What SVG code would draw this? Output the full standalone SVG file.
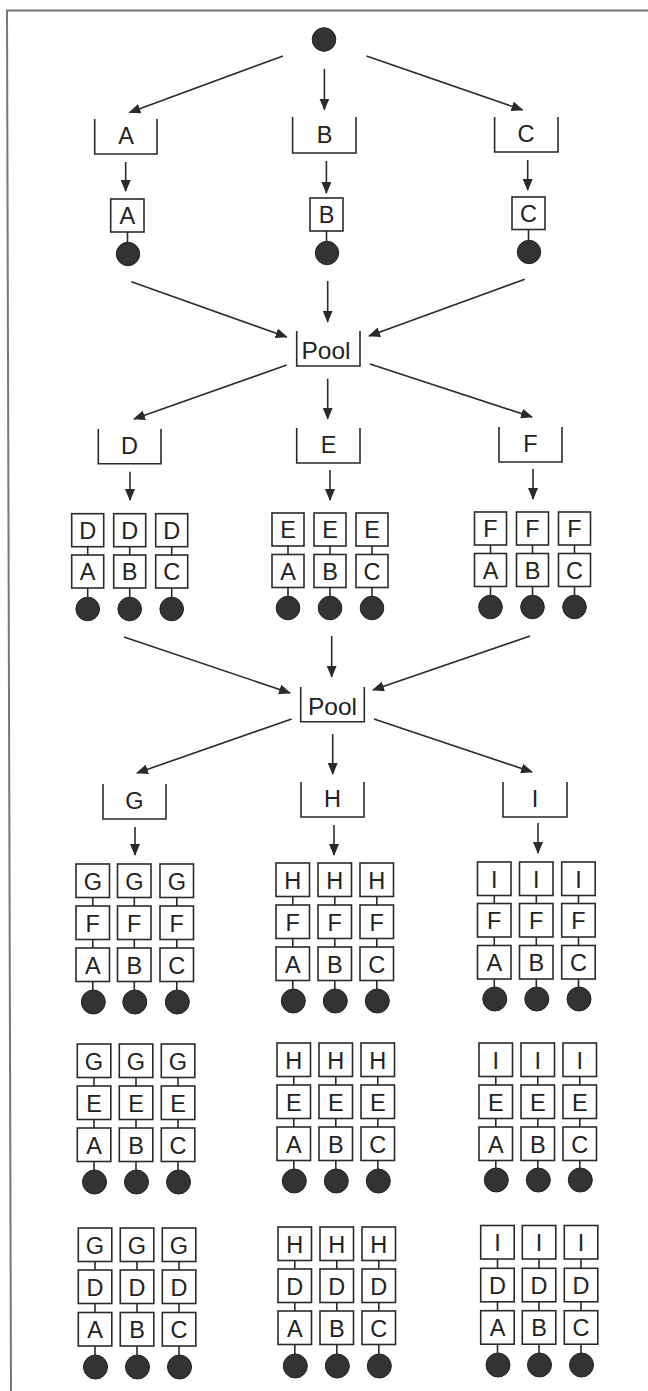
<svg xmlns="http://www.w3.org/2000/svg" width="648" height="1391" viewBox="0 0 648 1391">
<defs>
<marker id="ah" markerUnits="userSpaceOnUse" markerWidth="12" markerHeight="10" refX="11" refY="5" orient="auto"><path d="M0,0 L12,5 L0,10 z" fill="#2a2a2a"/></marker>
<style>
.b{fill:none;stroke:#2a2a2a;stroke-width:1.6}
.k{fill:#fff;stroke:#2a2a2a;stroke-width:1.6}
.l{stroke:#2a2a2a;stroke-width:1.6;fill:none}
.a{stroke:#2a2a2a;stroke-width:1.6;fill:none;marker-end:url(#ah)}
.d{fill:#333;stroke:#222;stroke-width:1}
.t{font-family:"Liberation Sans",Arial,sans-serif;font-size:23.5px;text-anchor:middle;fill:#222}
.p{font-family:"Liberation Sans",Arial,sans-serif;font-size:24.5px;text-anchor:middle;fill:#222}
.fr{stroke:#777;stroke-width:2;fill:none}
</style>
</defs>
<rect x="0" y="0" width="648" height="1391" fill="#fff"/>
<path class="fr" d="M648,10.5 L7,10.5 L11,1391"/>

<g id="start"><circle class="d" cx="324" cy="39.5" r="11.8"/></g>

<g id="connectors">
<line class="a" x1="283" y1="56" x2="129.5" y2="112.5"/>
<line class="a" x1="324.4" y1="69" x2="324.4" y2="109.5"/>
<line class="a" x1="366.5" y1="56" x2="522.5" y2="110"/>
<line class="a" x1="125.7" y1="162" x2="125.7" y2="191"/>
<line class="a" x1="326.4" y1="161" x2="326.4" y2="193"/>
<line class="a" x1="527.7" y1="160" x2="527.7" y2="190"/>
<line class="a" x1="131.4" y1="281.7" x2="286.7" y2="337"/>
<line class="a" x1="327.7" y1="281" x2="327.7" y2="321.7"/>
<line class="a" x1="524.8" y1="279.3" x2="369" y2="336"/>
<line class="a" x1="286.7" y1="365" x2="134" y2="419"/>
<line class="a" x1="327.7" y1="378.7" x2="327.7" y2="418.7"/>
<line class="a" x1="370" y1="364" x2="532" y2="417"/>
<line class="a" x1="130" y1="471.7" x2="130" y2="500"/>
<line class="a" x1="330" y1="470" x2="330" y2="500"/>
<line class="a" x1="533" y1="469" x2="533" y2="499"/>
<line class="a" x1="124" y1="637" x2="290" y2="693"/>
<line class="a" x1="331.7" y1="636" x2="331.7" y2="676.7"/>
<line class="a" x1="530" y1="636" x2="373" y2="690"/>
<line class="a" x1="291.7" y1="719" x2="137" y2="773"/>
<line class="a" x1="332.7" y1="734" x2="332.7" y2="774"/>
<line class="a" x1="374" y1="719" x2="532" y2="772"/>
<line class="a" x1="135" y1="827" x2="135" y2="855"/>
<line class="a" x1="334" y1="825" x2="334" y2="855"/>
<line class="a" x1="538" y1="823" x2="538" y2="853"/>
</g>

<g id="qA"><path class="b" d="M94.7,119 V154 H157 V119"/><text class="t" x="126" y="144">A</text></g>
<g id="qB"><path class="b" d="M292.6,117 V153 H356 V117"/><text class="t" x="324.5" y="143">B</text></g>
<g id="qC"><path class="b" d="M494.6,117 V152 H558 V117"/><text class="t" x="526" y="142">C</text></g>

<g id="sA"><rect class="k" x="110.7" y="199" width="33.3" height="33"/><text class="t" x="127.4" y="224">A</text><line class="l" x1="127.5" y1="232" x2="127.5" y2="243"/><circle class="d" cx="128" cy="254" r="11.7"/></g>
<g id="sB"><rect class="k" x="310" y="198" width="33" height="33"/><text class="t" x="326.5" y="223">B</text><line class="l" x1="326.5" y1="231" x2="326.5" y2="242"/><circle class="d" cx="327" cy="253" r="11.7"/></g>
<g id="sC"><rect class="k" x="512" y="197" width="33" height="32.5"/><text class="t" x="528.5" y="222">C</text><line class="l" x1="528.5" y1="229.5" x2="528.5" y2="241"/><circle class="d" cx="529" cy="252" r="11.7"/></g>

<g id="pool1"><path class="b" d="M296.7,331 V366 H360 V331"/><text class="p" x="326" y="359">Pool</text></g>

<g id="qD"><path class="b" d="M98.3,429 V463.7 H161 V429"/><text class="t" x="129.5" y="454">D</text></g>
<g id="qE"><path class="b" d="M296.7,428 V463 H360 V428"/><text class="t" x="328.5" y="453">E</text></g>
<g id="qF"><path class="b" d="M499,427 V462 H562 V427"/><text class="t" x="530.5" y="452">F</text></g>

<g id="DA"><rect class="k" x="71.7" y="513.7" width="32" height="33"/><text class="t" x="87.7" y="538.5">D</text><line class="l" x1="87.7" y1="546.7" x2="87.7" y2="555"/><rect class="k" x="71.7" y="555" width="32" height="33"/><text class="t" x="87.7" y="580">A</text><line class="l" x1="87.7" y1="588" x2="87.7" y2="597"/><circle class="d" cx="87.7" cy="609" r="11.8"/></g>
<g id="DB"><rect class="k" x="113.7" y="513.7" width="32" height="33"/><text class="t" x="129.7" y="538.5">D</text><line class="l" x1="129.7" y1="546.7" x2="129.7" y2="555"/><rect class="k" x="113.7" y="555" width="32" height="33"/><text class="t" x="129.7" y="580">B</text><line class="l" x1="129.7" y1="588" x2="129.7" y2="597"/><circle class="d" cx="129.7" cy="609" r="11.8"/></g>
<g id="DC"><rect class="k" x="155.7" y="513.7" width="32" height="33"/><text class="t" x="171.7" y="538.5">D</text><line class="l" x1="171.7" y1="546.7" x2="171.7" y2="555"/><rect class="k" x="155.7" y="555" width="32" height="33"/><text class="t" x="171.7" y="580">C</text><line class="l" x1="171.7" y1="588" x2="171.7" y2="597"/><circle class="d" cx="171.7" cy="609" r="11.8"/></g>

<g id="EA"><rect class="k" x="272" y="513" width="32" height="33"/><text class="t" x="288" y="538">E</text><line class="l" x1="288" y1="546" x2="288" y2="554.5"/><rect class="k" x="272" y="554.5" width="32" height="33"/><text class="t" x="288" y="579.5">A</text><line class="l" x1="288" y1="587.5" x2="288" y2="596"/><circle class="d" cx="288" cy="608" r="11.8"/></g>
<g id="EB"><rect class="k" x="314" y="513" width="32" height="33"/><text class="t" x="330" y="538">E</text><line class="l" x1="330" y1="546" x2="330" y2="554.5"/><rect class="k" x="314" y="554.5" width="32" height="33"/><text class="t" x="330" y="579.5">B</text><line class="l" x1="330" y1="587.5" x2="330" y2="596"/><circle class="d" cx="330" cy="608" r="11.8"/></g>
<g id="EC"><rect class="k" x="356" y="513" width="32" height="33"/><text class="t" x="372" y="538">E</text><line class="l" x1="372" y1="546" x2="372" y2="554.5"/><rect class="k" x="356" y="554.5" width="32" height="33"/><text class="t" x="372" y="579.5">C</text><line class="l" x1="372" y1="587.5" x2="372" y2="596"/><circle class="d" cx="372" cy="608" r="11.8"/></g>

<g id="FA"><rect class="k" x="474.5" y="512" width="32" height="33"/><text class="t" x="490.5" y="537">F</text><line class="l" x1="490.5" y1="545" x2="490.5" y2="553.5"/><rect class="k" x="474.5" y="553.5" width="32" height="33"/><text class="t" x="490.5" y="578.5">A</text><line class="l" x1="490.5" y1="586.5" x2="490.5" y2="595"/><circle class="d" cx="490.5" cy="607" r="11.8"/></g>
<g id="FB"><rect class="k" x="516.5" y="512" width="32" height="33"/><text class="t" x="532.5" y="537">F</text><line class="l" x1="532.5" y1="545" x2="532.5" y2="553.5"/><rect class="k" x="516.5" y="553.5" width="32" height="33"/><text class="t" x="532.5" y="578.5">B</text><line class="l" x1="532.5" y1="586.5" x2="532.5" y2="595"/><circle class="d" cx="532.5" cy="607" r="11.8"/></g>
<g id="FC"><rect class="k" x="558.5" y="512" width="32" height="33"/><text class="t" x="574.5" y="537">F</text><line class="l" x1="574.5" y1="545" x2="574.5" y2="553.5"/><rect class="k" x="558.5" y="553.5" width="32" height="33"/><text class="t" x="574.5" y="578.5">C</text><line class="l" x1="574.5" y1="586.5" x2="574.5" y2="595"/><circle class="d" cx="574.5" cy="607" r="11.8"/></g>

<g id="pool2"><path class="b" d="M300.7,687 V721.7 H364.3 V687"/><text class="p" x="332.5" y="715">Pool</text></g>

<g id="qG"><path class="b" d="M103,784 V819 H166 V784"/><text class="t" x="134.5" y="809">G</text></g>
<g id="qH"><path class="b" d="M301,782 V817 H364 V782"/><text class="t" x="332.5" y="807">H</text></g>
<g id="qI"><path class="b" d="M503,782 V817 H567 V782"/><text class="t" x="535" y="807">I</text></g>

<!-- G stacks -->
<g id="GFA"><rect class="k" x="76" y="864" width="33.5" height="33.5"/><text class="t" x="92.8" y="889.5">G</text><line class="l" x1="92.8" y1="897.5" x2="92.8" y2="906"/><rect class="k" x="76" y="906" width="33.5" height="33.5"/><text class="t" x="92.8" y="931.5">F</text><line class="l" x1="92.8" y1="939.5" x2="92.8" y2="948"/><rect class="k" x="76" y="948" width="33.5" height="33.5"/><text class="t" x="92.8" y="973.5">A</text><line class="l" x1="92.8" y1="981.5" x2="92.8" y2="990"/><circle class="d" cx="93.3" cy="1002" r="12"/></g>
<g id="GFB"><rect class="k" x="117.5" y="864" width="33.5" height="33.5"/><text class="t" x="134.3" y="889.5">G</text><line class="l" x1="134.3" y1="897.5" x2="134.3" y2="906"/><rect class="k" x="117.5" y="906" width="33.5" height="33.5"/><text class="t" x="134.3" y="931.5">F</text><line class="l" x1="134.3" y1="939.5" x2="134.3" y2="948"/><rect class="k" x="117.5" y="948" width="33.5" height="33.5"/><text class="t" x="134.3" y="973.5">B</text><line class="l" x1="134.3" y1="981.5" x2="134.3" y2="990"/><circle class="d" cx="134.8" cy="1002" r="12"/></g>
<g id="GFC"><rect class="k" x="160" y="864" width="33.5" height="33.5"/><text class="t" x="176.8" y="889.5">G</text><line class="l" x1="176.8" y1="897.5" x2="176.8" y2="906"/><rect class="k" x="160" y="906" width="33.5" height="33.5"/><text class="t" x="176.8" y="931.5">F</text><line class="l" x1="176.8" y1="939.5" x2="176.8" y2="948"/><rect class="k" x="160" y="948" width="33.5" height="33.5"/><text class="t" x="176.8" y="973.5">C</text><line class="l" x1="176.8" y1="981.5" x2="176.8" y2="990"/><circle class="d" cx="177.3" cy="1002" r="12"/></g>

<g id="GEA"><rect class="k" x="77.3" y="1044" width="33.5" height="33.5"/><text class="t" x="94" y="1069.5">G</text><line class="l" x1="94" y1="1077.5" x2="94" y2="1086"/><rect class="k" x="77.3" y="1086" width="33.5" height="33.5"/><text class="t" x="94" y="1111.5">E</text><line class="l" x1="94" y1="1119.5" x2="94" y2="1128"/><rect class="k" x="77.3" y="1128" width="33.5" height="33.5"/><text class="t" x="94" y="1153.5">A</text><line class="l" x1="94" y1="1161.5" x2="94" y2="1170"/><circle class="d" cx="94.5" cy="1182" r="12"/></g>
<g id="GEB"><rect class="k" x="119.3" y="1044" width="33.5" height="33.5"/><text class="t" x="136" y="1069.5">G</text><line class="l" x1="136" y1="1077.5" x2="136" y2="1086"/><rect class="k" x="119.3" y="1086" width="33.5" height="33.5"/><text class="t" x="136" y="1111.5">E</text><line class="l" x1="136" y1="1119.5" x2="136" y2="1128"/><rect class="k" x="119.3" y="1128" width="33.5" height="33.5"/><text class="t" x="136" y="1153.5">B</text><line class="l" x1="136" y1="1161.5" x2="136" y2="1170"/><circle class="d" cx="136.5" cy="1182" r="12"/></g>
<g id="GEC"><rect class="k" x="161.3" y="1044" width="33.5" height="33.5"/><text class="t" x="178" y="1069.5">G</text><line class="l" x1="178" y1="1077.5" x2="178" y2="1086"/><rect class="k" x="161.3" y="1086" width="33.5" height="33.5"/><text class="t" x="178" y="1111.5">E</text><line class="l" x1="178" y1="1119.5" x2="178" y2="1128"/><rect class="k" x="161.3" y="1128" width="33.5" height="33.5"/><text class="t" x="178" y="1153.5">C</text><line class="l" x1="178" y1="1161.5" x2="178" y2="1170"/><circle class="d" cx="178.5" cy="1182" r="12"/></g>

<g id="GDA"><rect class="k" x="78.3" y="1228" width="33.5" height="33.5"/><text class="t" x="95" y="1253.5">G</text><line class="l" x1="95" y1="1261.5" x2="95" y2="1270"/><rect class="k" x="78.3" y="1270" width="33.5" height="33.5"/><text class="t" x="95" y="1295.5">D</text><line class="l" x1="95" y1="1303.5" x2="95" y2="1312.5"/><rect class="k" x="78.3" y="1312.5" width="33.5" height="33.5"/><text class="t" x="95" y="1338">A</text><line class="l" x1="95" y1="1346" x2="95" y2="1355"/><circle class="d" cx="95.5" cy="1367" r="12"/></g>
<g id="GDB"><rect class="k" x="120.3" y="1228" width="33.5" height="33.5"/><text class="t" x="137" y="1253.5">G</text><line class="l" x1="137" y1="1261.5" x2="137" y2="1270"/><rect class="k" x="120.3" y="1270" width="33.5" height="33.5"/><text class="t" x="137" y="1295.5">D</text><line class="l" x1="137" y1="1303.5" x2="137" y2="1312.5"/><rect class="k" x="120.3" y="1312.5" width="33.5" height="33.5"/><text class="t" x="137" y="1338">B</text><line class="l" x1="137" y1="1346" x2="137" y2="1355"/><circle class="d" cx="137.5" cy="1367" r="12"/></g>
<g id="GDC"><rect class="k" x="162.3" y="1228" width="33.5" height="33.5"/><text class="t" x="179" y="1253.5">G</text><line class="l" x1="179" y1="1261.5" x2="179" y2="1270"/><rect class="k" x="162.3" y="1270" width="33.5" height="33.5"/><text class="t" x="179" y="1295.5">D</text><line class="l" x1="179" y1="1303.5" x2="179" y2="1312.5"/><rect class="k" x="162.3" y="1312.5" width="33.5" height="33.5"/><text class="t" x="179" y="1338">C</text><line class="l" x1="179" y1="1346" x2="179" y2="1355"/><circle class="d" cx="179.5" cy="1367" r="12"/></g>

<!-- H stacks -->
<g id="HFA"><rect class="k" x="276" y="863" width="33.5" height="33.5"/><text class="t" x="292.8" y="888.5">H</text><line class="l" x1="292.8" y1="896.5" x2="292.8" y2="905"/><rect class="k" x="276" y="905" width="33.5" height="33.5"/><text class="t" x="292.8" y="930.5">F</text><line class="l" x1="292.8" y1="938.5" x2="292.8" y2="947"/><rect class="k" x="276" y="947" width="33.5" height="33.5"/><text class="t" x="292.8" y="972.5">A</text><line class="l" x1="292.8" y1="980.5" x2="292.8" y2="989"/><circle class="d" cx="293.3" cy="1001" r="12"/></g>
<g id="HFB"><rect class="k" x="318" y="863" width="33.5" height="33.5"/><text class="t" x="334.8" y="888.5">H</text><line class="l" x1="334.8" y1="896.5" x2="334.8" y2="905"/><rect class="k" x="318" y="905" width="33.5" height="33.5"/><text class="t" x="334.8" y="930.5">F</text><line class="l" x1="334.8" y1="938.5" x2="334.8" y2="947"/><rect class="k" x="318" y="947" width="33.5" height="33.5"/><text class="t" x="334.8" y="972.5">B</text><line class="l" x1="334.8" y1="980.5" x2="334.8" y2="989"/><circle class="d" cx="335.3" cy="1001" r="12"/></g>
<g id="HFC"><rect class="k" x="360" y="863" width="33.5" height="33.5"/><text class="t" x="376.8" y="888.5">H</text><line class="l" x1="376.8" y1="896.5" x2="376.8" y2="905"/><rect class="k" x="360" y="905" width="33.5" height="33.5"/><text class="t" x="376.8" y="930.5">F</text><line class="l" x1="376.8" y1="938.5" x2="376.8" y2="947"/><rect class="k" x="360" y="947" width="33.5" height="33.5"/><text class="t" x="376.8" y="972.5">C</text><line class="l" x1="376.8" y1="980.5" x2="376.8" y2="989"/><circle class="d" cx="377.3" cy="1001" r="12"/></g>

<g id="HEA"><rect class="k" x="277" y="1043" width="33.5" height="33.5"/><text class="t" x="293.8" y="1068.5">H</text><line class="l" x1="293.8" y1="1076.5" x2="293.8" y2="1085"/><rect class="k" x="277" y="1085" width="33.5" height="33.5"/><text class="t" x="293.8" y="1110.5">E</text><line class="l" x1="293.8" y1="1118.5" x2="293.8" y2="1127"/><rect class="k" x="277" y="1127" width="33.5" height="33.5"/><text class="t" x="293.8" y="1152.5">A</text><line class="l" x1="293.8" y1="1160.5" x2="293.8" y2="1169"/><circle class="d" cx="294.3" cy="1181" r="12"/></g>
<g id="HEB"><rect class="k" x="319" y="1043" width="33.5" height="33.5"/><text class="t" x="335.8" y="1068.5">H</text><line class="l" x1="335.8" y1="1076.5" x2="335.8" y2="1085"/><rect class="k" x="319" y="1085" width="33.5" height="33.5"/><text class="t" x="335.8" y="1110.5">E</text><line class="l" x1="335.8" y1="1118.5" x2="335.8" y2="1127"/><rect class="k" x="319" y="1127" width="33.5" height="33.5"/><text class="t" x="335.8" y="1152.5">B</text><line class="l" x1="335.8" y1="1160.5" x2="335.8" y2="1169"/><circle class="d" cx="336.3" cy="1181" r="12"/></g>
<g id="HEC"><rect class="k" x="361" y="1043" width="33.5" height="33.5"/><text class="t" x="377.8" y="1068.5">H</text><line class="l" x1="377.8" y1="1076.5" x2="377.8" y2="1085"/><rect class="k" x="361" y="1085" width="33.5" height="33.5"/><text class="t" x="377.8" y="1110.5">E</text><line class="l" x1="377.8" y1="1118.5" x2="377.8" y2="1127"/><rect class="k" x="361" y="1127" width="33.5" height="33.5"/><text class="t" x="377.8" y="1152.5">C</text><line class="l" x1="377.8" y1="1160.5" x2="377.8" y2="1169"/><circle class="d" cx="378.3" cy="1181" r="12"/></g>

<g id="HDA"><rect class="k" x="278" y="1227" width="33.5" height="33.5"/><text class="t" x="294.8" y="1252.5">H</text><line class="l" x1="294.8" y1="1260.5" x2="294.8" y2="1269"/><rect class="k" x="278" y="1269" width="33.5" height="33.5"/><text class="t" x="294.8" y="1294.5">D</text><line class="l" x1="294.8" y1="1302.5" x2="294.8" y2="1311"/><rect class="k" x="278" y="1311" width="33.5" height="33.5"/><text class="t" x="294.8" y="1336.5">A</text><line class="l" x1="294.8" y1="1344.5" x2="294.8" y2="1354"/><circle class="d" cx="295.3" cy="1366" r="12"/></g>
<g id="HDB"><rect class="k" x="320" y="1227" width="33.5" height="33.5"/><text class="t" x="336.8" y="1252.5">H</text><line class="l" x1="336.8" y1="1260.5" x2="336.8" y2="1269"/><rect class="k" x="320" y="1269" width="33.5" height="33.5"/><text class="t" x="336.8" y="1294.5">D</text><line class="l" x1="336.8" y1="1302.5" x2="336.8" y2="1311"/><rect class="k" x="320" y="1311" width="33.5" height="33.5"/><text class="t" x="336.8" y="1336.5">B</text><line class="l" x1="336.8" y1="1344.5" x2="336.8" y2="1354"/><circle class="d" cx="337.3" cy="1366" r="12"/></g>
<g id="HDC"><rect class="k" x="362" y="1227" width="33.5" height="33.5"/><text class="t" x="378.8" y="1252.5">H</text><line class="l" x1="378.8" y1="1260.5" x2="378.8" y2="1269"/><rect class="k" x="362" y="1269" width="33.5" height="33.5"/><text class="t" x="378.8" y="1294.5">D</text><line class="l" x1="378.8" y1="1302.5" x2="378.8" y2="1311"/><rect class="k" x="362" y="1311" width="33.5" height="33.5"/><text class="t" x="378.8" y="1336.5">C</text><line class="l" x1="378.8" y1="1344.5" x2="378.8" y2="1354"/><circle class="d" cx="379.3" cy="1366" r="12"/></g>

<!-- I stacks -->
<g id="IFA"><rect class="k" x="477.5" y="862" width="33.5" height="33.5"/><text class="t" x="494.3" y="887.5">I</text><line class="l" x1="494.3" y1="895.5" x2="494.3" y2="903.5"/><rect class="k" x="477.5" y="903.5" width="33.5" height="33.5"/><text class="t" x="494.3" y="929">F</text><line class="l" x1="494.3" y1="937" x2="494.3" y2="945.5"/><rect class="k" x="477.5" y="945.5" width="33.5" height="33.5"/><text class="t" x="494.3" y="971">A</text><line class="l" x1="494.3" y1="979" x2="494.3" y2="987"/><circle class="d" cx="494.8" cy="999" r="12"/></g>
<g id="IFB"><rect class="k" x="519.5" y="862" width="33.5" height="33.5"/><text class="t" x="536.3" y="887.5">I</text><line class="l" x1="536.3" y1="895.5" x2="536.3" y2="903.5"/><rect class="k" x="519.5" y="903.5" width="33.5" height="33.5"/><text class="t" x="536.3" y="929">F</text><line class="l" x1="536.3" y1="937" x2="536.3" y2="945.5"/><rect class="k" x="519.5" y="945.5" width="33.5" height="33.5"/><text class="t" x="536.3" y="971">B</text><line class="l" x1="536.3" y1="979" x2="536.3" y2="987"/><circle class="d" cx="536.8" cy="999" r="12"/></g>
<g id="IFC"><rect class="k" x="561.7" y="862" width="33.5" height="33.5"/><text class="t" x="578.5" y="887.5">I</text><line class="l" x1="578.5" y1="895.5" x2="578.5" y2="903.5"/><rect class="k" x="561.7" y="903.5" width="33.5" height="33.5"/><text class="t" x="578.5" y="929">F</text><line class="l" x1="578.5" y1="937" x2="578.5" y2="945.5"/><rect class="k" x="561.7" y="945.5" width="33.5" height="33.5"/><text class="t" x="578.5" y="971">C</text><line class="l" x1="578.5" y1="979" x2="578.5" y2="987"/><circle class="d" cx="579" cy="999" r="12"/></g>

<g id="IEA"><rect class="k" x="479" y="1043" width="33.5" height="33.5"/><text class="t" x="495.8" y="1068.5">I</text><line class="l" x1="495.8" y1="1076.5" x2="495.8" y2="1085"/><rect class="k" x="479" y="1085" width="33.5" height="33.5"/><text class="t" x="495.8" y="1110.5">E</text><line class="l" x1="495.8" y1="1118.5" x2="495.8" y2="1127"/><rect class="k" x="479" y="1127" width="33.5" height="33.5"/><text class="t" x="495.8" y="1152.5">A</text><line class="l" x1="495.8" y1="1160.5" x2="495.8" y2="1168"/><circle class="d" cx="496.3" cy="1180" r="12"/></g>
<g id="IEB"><rect class="k" x="521" y="1043" width="33.5" height="33.5"/><text class="t" x="537.8" y="1068.5">I</text><line class="l" x1="537.8" y1="1076.5" x2="537.8" y2="1085"/><rect class="k" x="521" y="1085" width="33.5" height="33.5"/><text class="t" x="537.8" y="1110.5">E</text><line class="l" x1="537.8" y1="1118.5" x2="537.8" y2="1127"/><rect class="k" x="521" y="1127" width="33.5" height="33.5"/><text class="t" x="537.8" y="1152.5">B</text><line class="l" x1="537.8" y1="1160.5" x2="537.8" y2="1168"/><circle class="d" cx="538.3" cy="1180" r="12"/></g>
<g id="IEC"><rect class="k" x="563" y="1043" width="33.5" height="33.5"/><text class="t" x="579.8" y="1068.5">I</text><line class="l" x1="579.8" y1="1076.5" x2="579.8" y2="1085"/><rect class="k" x="563" y="1085" width="33.5" height="33.5"/><text class="t" x="579.8" y="1110.5">E</text><line class="l" x1="579.8" y1="1118.5" x2="579.8" y2="1127"/><rect class="k" x="563" y="1127" width="33.5" height="33.5"/><text class="t" x="579.8" y="1152.5">C</text><line class="l" x1="579.8" y1="1160.5" x2="579.8" y2="1168"/><circle class="d" cx="580.3" cy="1180" r="12"/></g>

<g id="IDA"><rect class="k" x="480.7" y="1225.5" width="33.5" height="33.5"/><text class="t" x="497.5" y="1251">I</text><line class="l" x1="497.5" y1="1259" x2="497.5" y2="1268.3"/><rect class="k" x="480.7" y="1268.3" width="33.5" height="33.5"/><text class="t" x="497.5" y="1293.8">D</text><line class="l" x1="497.5" y1="1301.8" x2="497.5" y2="1310.7"/><rect class="k" x="480.7" y="1310.7" width="33.5" height="33.5"/><text class="t" x="497.5" y="1336.2">A</text><line class="l" x1="497.5" y1="1344.2" x2="497.5" y2="1353"/><circle class="d" cx="498" cy="1365" r="12"/></g>
<g id="IDB"><rect class="k" x="522.3" y="1225.5" width="33.5" height="33.5"/><text class="t" x="539" y="1251">I</text><line class="l" x1="539" y1="1259" x2="539" y2="1268.3"/><rect class="k" x="522.3" y="1268.3" width="33.5" height="33.5"/><text class="t" x="539" y="1293.8">D</text><line class="l" x1="539" y1="1301.8" x2="539" y2="1310.7"/><rect class="k" x="522.3" y="1310.7" width="33.5" height="33.5"/><text class="t" x="539" y="1336.2">B</text><line class="l" x1="539" y1="1344.2" x2="539" y2="1353"/><circle class="d" cx="539.5" cy="1365" r="12"/></g>
<g id="IDC"><rect class="k" x="564.3" y="1225.5" width="33.5" height="33.5"/><text class="t" x="581" y="1251">I</text><line class="l" x1="581" y1="1259" x2="581" y2="1268.3"/><rect class="k" x="564.3" y="1268.3" width="33.5" height="33.5"/><text class="t" x="581" y="1293.8">D</text><line class="l" x1="581" y1="1301.8" x2="581" y2="1310.7"/><rect class="k" x="564.3" y="1310.7" width="33.5" height="33.5"/><text class="t" x="581" y="1336.2">C</text><line class="l" x1="581" y1="1344.2" x2="581" y2="1353"/><circle class="d" cx="581.5" cy="1365" r="12"/></g>
</svg>
